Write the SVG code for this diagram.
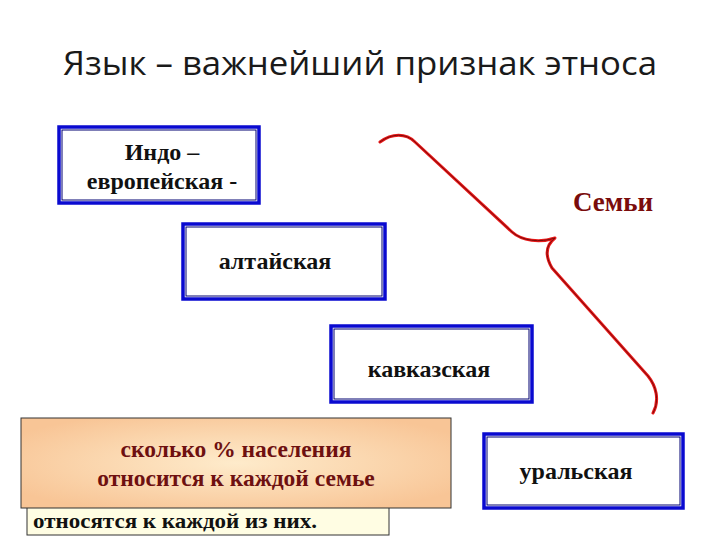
<svg xmlns="http://www.w3.org/2000/svg" width="720" height="540" viewBox="0 0 720 540">
<defs>
<radialGradient id="og" cx="0.5" cy="0.5" r="0.6">
<stop offset="0" stop-color="#FEEBCB"/>
<stop offset="1" stop-color="#F8C596"/>
</radialGradient>
<style>
.box{fill:#ffffff;stroke:#0a0ad0;stroke-width:3.5}
.inner{fill:none;stroke:#000070;stroke-width:1}
.lbl{font-family:"Liberation Serif","Times New Roman",serif;font-weight:bold;font-size:24px;fill:#111;text-anchor:middle}
.title{font-family:"Open Sans","Liberation Sans",sans-serif;font-size:32px;fill:#1a1a1a}
.q{font-family:"Liberation Serif",serif;font-weight:bold;font-size:23.5px;fill:#6e1010;text-anchor:middle}
</style>
</defs>
<rect width="720" height="540" fill="#ffffff"/>
<text class="title" x="63" y="75" textLength="594" lengthAdjust="spacingAndGlyphs">Язык – важнейший признак этноса</text>

<g id="indo">
<rect class="box" x="59" y="127" width="200" height="76"/>
<rect class="inner" x="62" y="130" width="194" height="70"/>
<text class="lbl" x="162" y="160">Индо –</text>
<text class="lbl" x="162" y="189">европейская -</text>
</g>
<g id="altai">
<rect class="box" x="183" y="224" width="202" height="75"/>
<rect class="inner" x="186" y="227" width="196" height="69"/>
<text class="lbl" x="275" y="269">алтайская</text>
</g>
<g id="kavkaz">
<rect class="box" x="331" y="326" width="201" height="76"/>
<rect class="inner" x="334" y="329" width="195" height="70"/>
<text class="lbl" x="429" y="377">кавказская</text>
</g>
<g id="ural">
<rect class="box" x="484" y="434" width="199" height="74"/>
<rect class="inner" x="487" y="437" width="193" height="68"/>
<text class="lbl" x="576" y="479">уральская</text>
</g>

<g id="semi">
<text x="613" y="211" font-family="Liberation Serif,serif" font-weight="bold" font-size="27" fill="#7a0c0c" text-anchor="middle">Семьи</text>
</g>

<g id="connectors" fill="none" stroke-linecap="round" stroke-linejoin="round">
<path id="brace" d="M380,142 C392,133 406,133 415,142 L512,232 C522,241 540,243 555,238 C545,246 545,256 552,268 L648,376 C656,386 660,400 653,413" stroke="#e81818" stroke-width="3"/>
<path d="M380,142 C392,133 406,133 415,142 L512,232 C522,241 540,243 555,238 C545,246 545,256 552,268 L648,376 C656,386 660,400 653,413" stroke="#7a0a0a" stroke-width="1"/>
</g>

<g id="note-back">
<rect x="27" y="498" width="362" height="37" fill="#FFFDE3" stroke="#333" stroke-width="1"/>
<text x="33" y="528" font-family="Liberation Serif,serif" font-weight="bold" font-size="22" fill="#111" textLength="284" lengthAdjust="spacingAndGlyphs">относятся к каждой из них.</text>
</g>
<g id="note">
<rect x="21" y="418" width="430" height="90" fill="url(#og)" stroke="#333" stroke-width="1"/>
<text class="q" x="236" y="457">сколько % населения</text>
<text class="q" x="236" y="486">относится к каждой семье</text>
</g>
</svg>
